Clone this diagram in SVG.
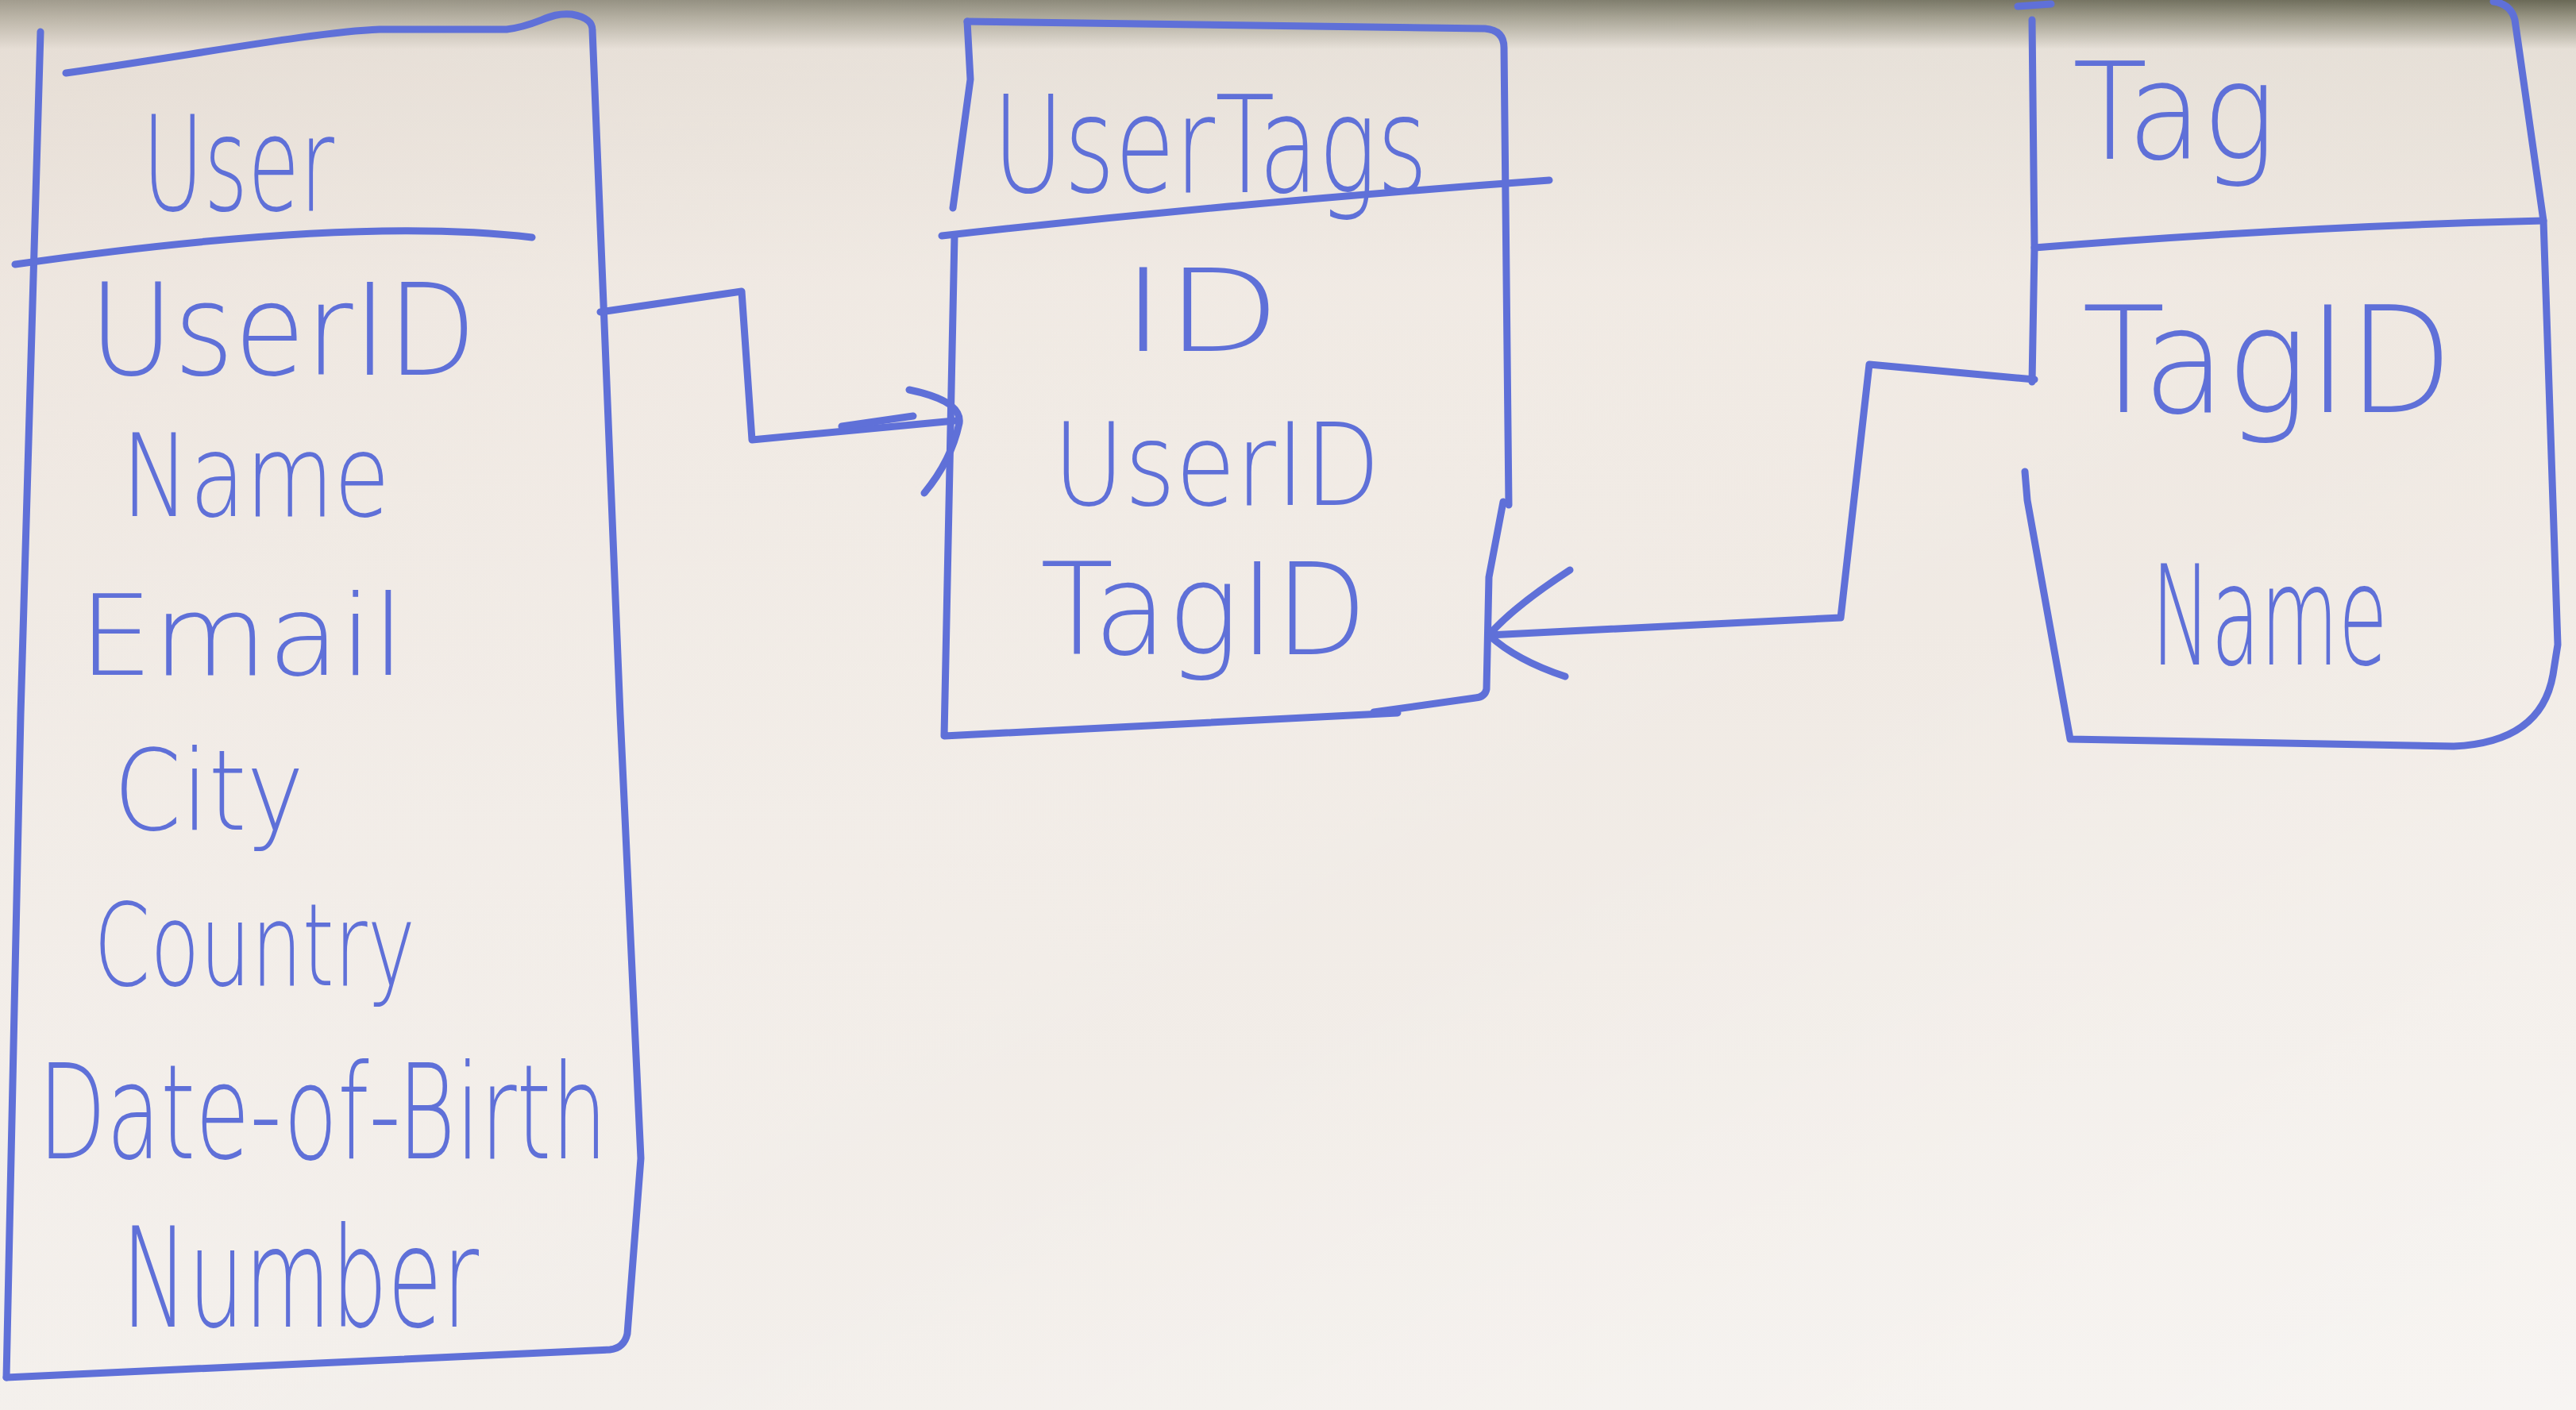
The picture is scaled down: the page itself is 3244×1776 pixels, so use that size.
<svg xmlns="http://www.w3.org/2000/svg" width="3244" height="1776" viewBox="0 0 3244 1776">
<defs>
<linearGradient id="bgv" x1="0" y1="0" x2="0" y2="1">
<stop offset="0" stop-color="#5c5b47"/>
<stop offset="0.012" stop-color="#8e8b78"/>
<stop offset="0.035" stop-color="#e4ddd4"/>
<stop offset="0.2" stop-color="#efe8e1"/>
<stop offset="1" stop-color="#f3efeb"/>
</linearGradient>
<linearGradient id="bgh" x1="0" y1="0" x2="1" y2="1">
<stop offset="0" stop-color="#e8ded6" stop-opacity="0.5"/>
<stop offset="0.6" stop-color="#ffffff" stop-opacity="0"/>
<stop offset="1" stop-color="#ffffff" stop-opacity="0.35"/>
</linearGradient>
<style>
.ln{fill:none;stroke:#5f70d8;stroke-width:9;stroke-linecap:round;stroke-linejoin:round}
.t{font-family:"DejaVu Sans","Liberation Sans",sans-serif;font-weight:200;fill:#5f70d8}
</style>
</defs>
<rect width="3244" height="1776" fill="url(#bgv)"/>
<rect width="3244" height="1776" fill="url(#bgh)"/>

<g id="user">
<path class="ln" d="M51,40 L26,900 L8,1735"/>
<path class="ln" d="M83,92 C250,68 400,40 478,37 L638,37 C680,32 690,15 720,18 C742,22 746,30 746,38 L781,900 L807,1459 L790,1680 Q786,1698 768,1700 L8,1735"/>
<path class="ln" d="M19,333 Q446,272 670,299"/>
<text class="t" x="179" y="265" font-size="165" textLength="242" lengthAdjust="spacingAndGlyphs">User</text>
<text class="t" x="112" y="472" font-size="160" textLength="488" lengthAdjust="spacingAndGlyphs">UserID</text>
<text class="t" x="153" y="650" font-size="145" textLength="338" lengthAdjust="spacingAndGlyphs">Name</text>
<text class="t" x="99" y="850" font-size="140" textLength="411" lengthAdjust="spacingAndGlyphs">Email</text>
<text class="t" x="143" y="1045" font-size="140" textLength="240" lengthAdjust="spacingAndGlyphs">City</text>
<text class="t" x="118" y="1241" font-size="145" textLength="405" lengthAdjust="spacingAndGlyphs">Country</text>
<text class="t" x="48" y="1459" font-size="165" textLength="717" lengthAdjust="spacingAndGlyphs">Date-of-Birth</text>
<text class="t" x="153" y="1671" font-size="175" textLength="450" lengthAdjust="spacingAndGlyphs">Number</text>
</g>

<g id="usertags">
<path class="ln" d="M1218,27 L1222,100 L1200,262"/>
<path class="ln" d="M1218,27 L1870,36 Q1894,38 1894,60 L1900,636"/>
<path class="ln" d="M1893,632 L1875,727 L1872,868 Q1870,878 1858,879 L1730,897"/>
<path class="ln" d="M1760,898 L1189,927 L1202,297"/>
<path class="ln" d="M1186,297 Q1560,255 1951,227"/>
<text class="t" x="1250" y="242" font-size="170" textLength="548" lengthAdjust="spacingAndGlyphs">UserTags</text>
<text class="t" x="1412" y="442" font-size="145" textLength="201" lengthAdjust="spacingAndGlyphs">ID</text>
<text class="t" x="1326" y="636" font-size="145" textLength="412" lengthAdjust="spacingAndGlyphs">UserID</text>
<text class="t" x="1310" y="824" font-size="160" textLength="412" lengthAdjust="spacingAndGlyphs">TagID</text>
</g>

<g id="tag">
<path class="ln" d="M2541,8 L2583,5"/>
<path class="ln" d="M2559,25 L2562,312 L2559,481"/>
<path class="ln" d="M2550,594 L2553,630 L2607,931 L3090,940 Q3200,935 3215,850 L3221,812 L3203,278 L3167,25 Q3162,5 3140,2"/>
<path class="ln" d="M2562,312 Q2900,285 3203,278"/>
<text class="t" x="2610" y="200" font-size="170" textLength="256" lengthAdjust="spacingAndGlyphs">Tag</text>
<text class="t" x="2622" y="519" font-size="185" textLength="467" lengthAdjust="spacingAndGlyphs">TagID</text>
<text class="t" x="2709" y="837" font-size="175" textLength="298" lengthAdjust="spacingAndGlyphs">Name</text>
</g>

<g id="connectors">
<path class="ln" d="M756,393 L934,367 L947,554 L1202,530"/>
<path class="ln" d="M1060,537 L1150,524"/>
<path class="ln" d="M1145,491 Q1212,505 1208,533 Q1198,580 1164,621"/>
<path class="ln" d="M2562,478 L2354,459 L2318,778 L1875,800"/>
<path class="ln" d="M1977,718 Q1905,765 1875,800 Q1910,832 1971,852"/>
</g>
</svg>
